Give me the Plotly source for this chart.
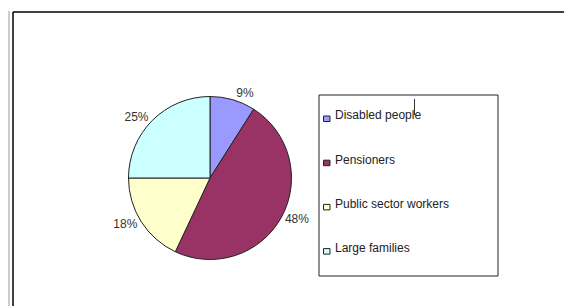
import plotly.graph_objects as go

# ---- data ----
categories = ["Disabled people", "Pensioners", "Public sector workers", "Large families"]
values = [9, 48, 18, 25]
colors = ["#9999FF", "#993366", "#FFFFCC", "#CCFFFF"]

# page body has an 8px margin, so the figure starts at screen (8, 8);
# the figure is made full window size so it runs off the right/bottom edges
OFF = 8
W, H = 572, 306


def px(x):
    return (x - OFF) / W


def py(y):
    return 1 - (y - OFF) / H


fig = go.Figure()

# pie centre ~ (210, 178) on screen, radius ~81 px
cx, cy, r = 210, 178, 81.5
fig.add_trace(go.Pie(
    labels=categories,
    values=values,
    sort=False,
    direction="clockwise",
    rotation=0,
    marker=dict(colors=colors, line=dict(color="#222222", width=1)),
    textinfo="percent",
    texttemplate="%{percent:.0%}",
    textposition="outside",
    textfont=dict(family="Liberation Sans, Arial, sans-serif", size=12, color="#333333"),
    showlegend=False,
    hoverinfo="label+percent",
    domain=dict(x=[px(cx - r), px(cx + r)], y=[py(cy + r), py(cy - r)]),
))

shapes = []
# outer frame: light grey line and black chart border
shapes.append(dict(type="line", xref="paper", yref="paper",
                   x0=px(9), x1=px(9), y0=py(11), y1=py(320),
                   line=dict(color="#cccccc", width=2)))
shapes.append(dict(type="line", xref="paper", yref="paper",
                   x0=px(13), x1=px(13), y0=py(12), y1=py(320),
                   line=dict(color="#000000", width=1.5)))
shapes.append(dict(type="line", xref="paper", yref="paper",
                   x0=px(13), x1=px(590), y0=py(12), y1=py(12),
                   line=dict(color="#000000", width=1.5)))

# legend box
lx0, ly0, lx1, ly1 = 319, 95, 498, 276
shapes.append(dict(type="rect", xref="paper", yref="paper",
                   x0=px(lx0), x1=px(lx1), y0=py(ly1), y1=py(ly0),
                   line=dict(color="#222222", width=1), fillcolor="rgba(0,0,0,0)"))

annotations = []
row0, step = 115.5, 44.2
for i, (name, col) in enumerate(zip(categories, colors)):
    yc = row0 + i * step
    shapes.append(dict(type="rect", xref="paper", yref="paper",
                       x0=px(323.5), x1=px(330), y0=py(yc + 6), y1=py(yc + 0.5),
                       line=dict(color="#222222", width=1), fillcolor=col))
    annotations.append(dict(xref="paper", yref="paper", x=px(333), y=py(yc),
                            xanchor="left", yanchor="middle", showarrow=False,
                            text=name,
                            font=dict(family="Liberation Sans, Arial, sans-serif",
                                      size=12, color="#222222")))

# text cursor mark seen over the legend
shapes.append(dict(type="line", xref="paper", yref="paper",
                   x0=px(414.5), x1=px(414.5), y0=py(99), y1=py(115),
                   line=dict(color="#333333", width=1)))

fig.update_layout(
    width=W, height=H,
    margin=dict(l=0, r=0, t=0, b=0),
    paper_bgcolor="white",
    plot_bgcolor="white",
    shapes=shapes,
    annotations=annotations,
)

fig.write_html("out.html")
